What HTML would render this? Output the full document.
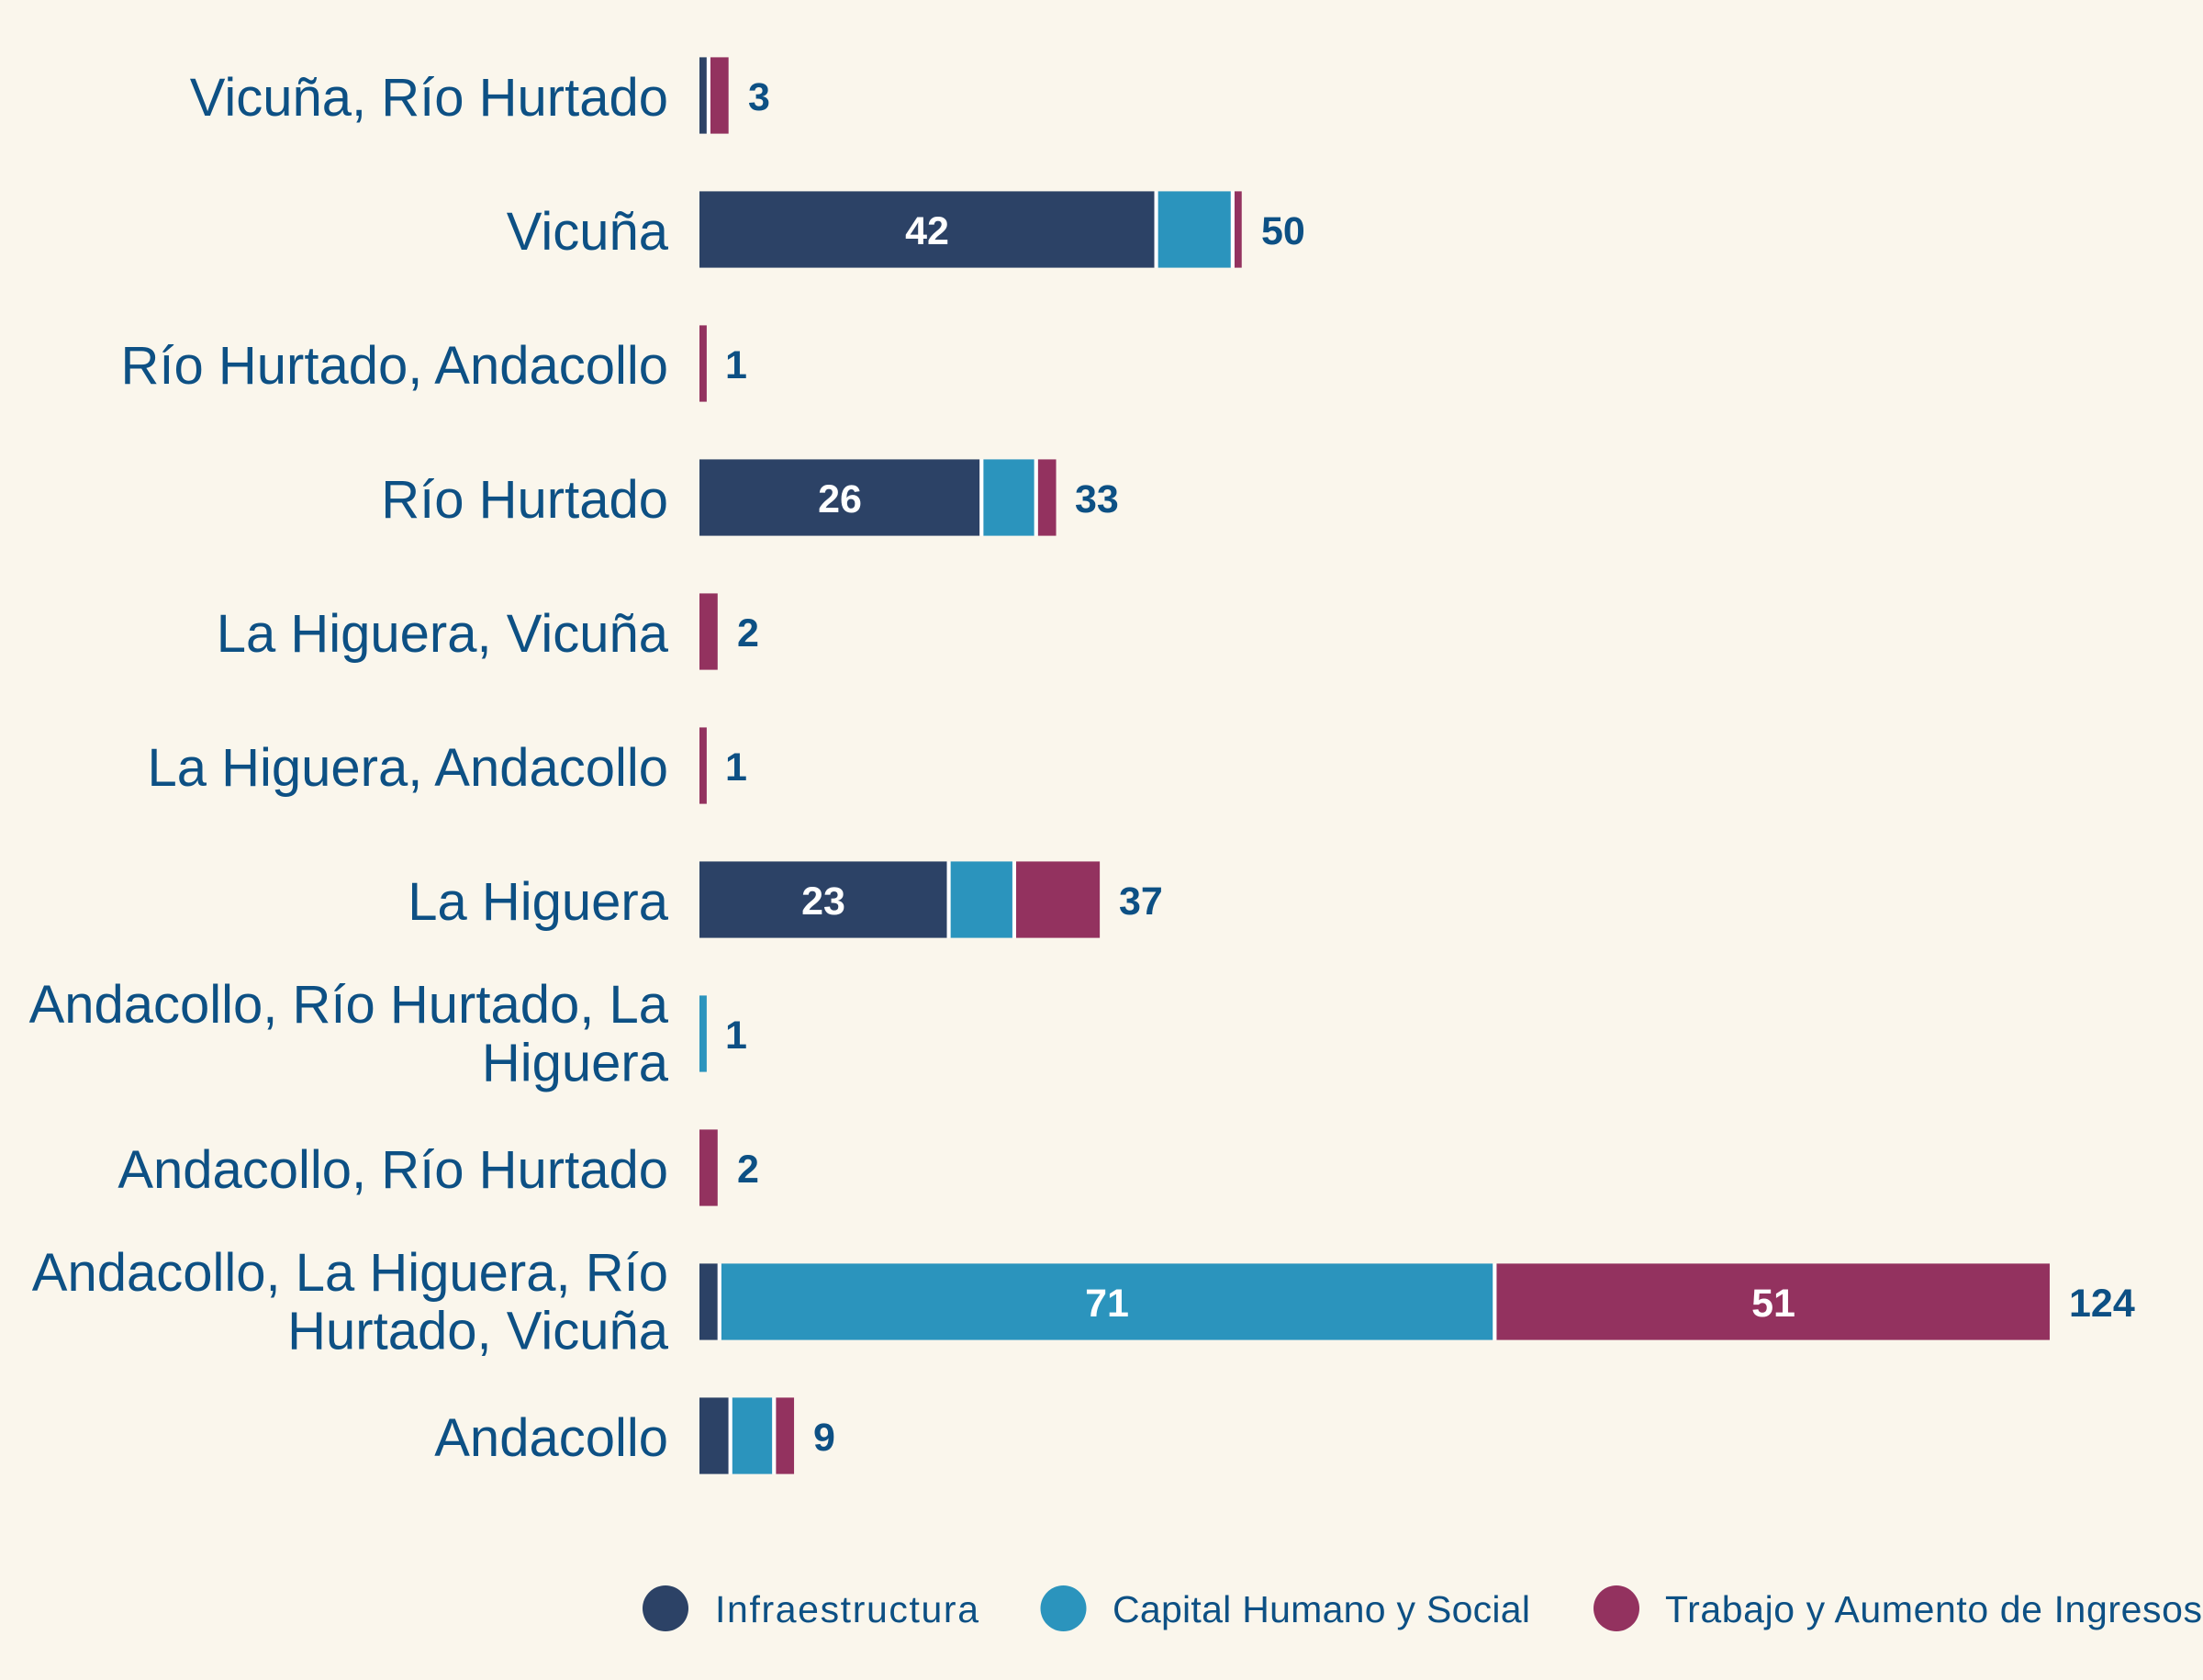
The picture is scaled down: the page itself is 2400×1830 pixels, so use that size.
<!DOCTYPE html>
<html>
<head>
<meta charset="utf-8">
<style>
html,body{margin:0;padding:0;background:#FAF6EC;}
svg{display:block;}
.lbl{font-family:"Liberation Sans",sans-serif;font-size:58px;fill:#0D5084;}
.val{font-family:"Liberation Sans",sans-serif;font-size:43px;font-weight:bold;fill:#0D5084;}
.inn{font-family:"Liberation Sans",sans-serif;font-size:43px;font-weight:bold;fill:#ffffff;}
.leg{font-family:"Liberation Sans",sans-serif;font-size:41px;fill:#0D5084;}
</style>
</head>
<body>
<svg width="2400" height="1830" viewBox="0 0 2400 1830" xmlns="http://www.w3.org/2000/svg">
<rect x="0" y="0" width="2400" height="1830" fill="#FAF6EC"/>
<!-- Row labels -->
<g class="lbl" text-anchor="end">
  <text x="728" y="126">Vicuña, Río Hurtado</text>
  <text x="728" y="272">Vicuña</text>
  <text x="728" y="418">Río Hurtado, Andacollo</text>
  <text x="728" y="564">Río Hurtado</text>
  <text x="728" y="710">La Higuera, Vicuña</text>
  <text x="728" y="856">La Higuera, Andacollo</text>
  <text x="728" y="1002">La Higuera</text>
  <text x="728" y="1114">Andacollo, Río Hurtado, La</text>
  <text x="728" y="1177.5">Higuera</text>
  <text x="728" y="1294">Andacollo, Río Hurtado</text>
  <text x="728" y="1406">Andacollo, La Higuera, Río</text>
  <text x="728" y="1469.5">Hurtado, Vicuña</text>
  <text x="728" y="1586">Andacollo</text>
</g>

<!-- Bars: x0=760, k=11.895, visible row top = 62.4 + 146*i, height 83.2; segments inset 2px each side -->
<g>
  <!-- row 0: 1,0,2 -->
  <rect x="762" y="62.4" width="7.895" height="83.2" fill="#2C4266"/>
  <rect x="773.895" y="62.4" width="19.79" height="83.2" fill="#93325F"/>
  <rect x="769.895" y="62.4" width="4" height="83.2" fill="#ffffff"/>
  <!-- row 1: 42,7,1 -->
  <rect x="762" y="208.4" width="495.59" height="83.2" fill="#2C4266"/>
  <rect x="1261.59" y="208.4" width="79.265" height="83.2" fill="#2B94BD"/>
  <rect x="1344.855" y="208.4" width="7.895" height="83.2" fill="#93325F"/>
  <rect x="1257.59" y="208.4" width="4" height="83.2" fill="#ffffff"/>
  <rect x="1340.855" y="208.4" width="4" height="83.2" fill="#ffffff"/>
  <!-- row 2: 0,0,1 -->
  <rect x="762" y="354.4" width="7.895" height="83.2" fill="#93325F"/>
  <!-- row 3: 26,5,2 -->
  <rect x="762" y="500.4" width="305.27" height="83.2" fill="#2C4266"/>
  <rect x="1071.27" y="500.4" width="55.475" height="83.2" fill="#2B94BD"/>
  <rect x="1130.745" y="500.4" width="19.79" height="83.2" fill="#93325F"/>
  <rect x="1067.27" y="500.4" width="4" height="83.2" fill="#ffffff"/>
  <rect x="1126.745" y="500.4" width="4" height="83.2" fill="#ffffff"/>
  <!-- row 4: 0,0,2 -->
  <rect x="762" y="646.4" width="19.79" height="83.2" fill="#93325F"/>
  <!-- row 5: 0,0,1 -->
  <rect x="762" y="792.4" width="7.895" height="83.2" fill="#93325F"/>
  <!-- row 6: 23,6,8 -->
  <rect x="762" y="938.4" width="269.585" height="83.2" fill="#2C4266"/>
  <rect x="1035.585" y="938.4" width="67.37" height="83.2" fill="#2B94BD"/>
  <rect x="1106.955" y="938.4" width="91.16" height="83.2" fill="#93325F"/>
  <rect x="1031.585" y="938.4" width="4" height="83.2" fill="#ffffff"/>
  <rect x="1102.955" y="938.4" width="4" height="83.2" fill="#ffffff"/>
  <!-- row 7: 0,1,0 -->
  <rect x="762" y="1084.4" width="7.895" height="83.2" fill="#2B94BD"/>
  <!-- row 8: 0,0,2 -->
  <rect x="762" y="1230.4" width="19.79" height="83.2" fill="#93325F"/>
  <!-- row 9: 2,71,51 -->
  <rect x="762" y="1376.4" width="19.79" height="83.2" fill="#2C4266"/>
  <rect x="785.79" y="1376.4" width="840.545" height="83.2" fill="#2B94BD"/>
  <rect x="1630.335" y="1376.4" width="602.645" height="83.2" fill="#93325F"/>
  <rect x="781.79" y="1376.4" width="4" height="83.2" fill="#ffffff"/>
  <rect x="1626.335" y="1376.4" width="4" height="83.2" fill="#ffffff"/>
  <!-- row 10: 3,4,2 -->
  <rect x="762" y="1522.4" width="31.685" height="83.2" fill="#2C4266"/>
  <rect x="797.685" y="1522.4" width="43.58" height="83.2" fill="#2B94BD"/>
  <rect x="845.265" y="1522.4" width="19.79" height="83.2" fill="#93325F"/>
  <rect x="793.685" y="1522.4" width="4" height="83.2" fill="#ffffff"/>
  <rect x="841.265" y="1522.4" width="4" height="83.2" fill="#ffffff"/>
</g>

<!-- Inner labels -->
<g class="inn" text-anchor="middle">
  <text x="1010" y="266">42</text>
  <text x="915" y="558">26</text>
  <text x="897" y="996">23</text>
  <text x="1206" y="1434">71</text>
  <text x="1932" y="1434">51</text>
</g>

<!-- Total labels -->
<g class="val">
  <text x="815" y="120">3</text>
  <text x="1374" y="266">50</text>
  <text x="790" y="412">1</text>
  <text x="1171" y="558">33</text>
  <text x="803" y="704">2</text>
  <text x="790" y="850">1</text>
  <text x="1219" y="996">37</text>
  <text x="790" y="1142">1</text>
  <text x="803" y="1288">2</text>
  <text x="2254" y="1434">124</text>
  <text x="886" y="1580">9</text>
</g>

<!-- Legend -->
<circle cx="725" cy="1752" r="25" fill="#2C4266"/>
<text class="leg" x="779" y="1767" textLength="287" lengthAdjust="spacing">Infraestructura</text>
<circle cx="1158.5" cy="1752" r="25" fill="#2B94BD"/>
<text class="leg" x="1212" y="1767" textLength="455" lengthAdjust="spacing">Capital Humano y Social</text>
<circle cx="1761" cy="1752" r="25" fill="#93325F"/>
<text class="leg" x="1814" y="1767" textLength="585" lengthAdjust="spacing">Trabajo y Aumento de Ingresos</text>
</svg>
</body>
</html>
